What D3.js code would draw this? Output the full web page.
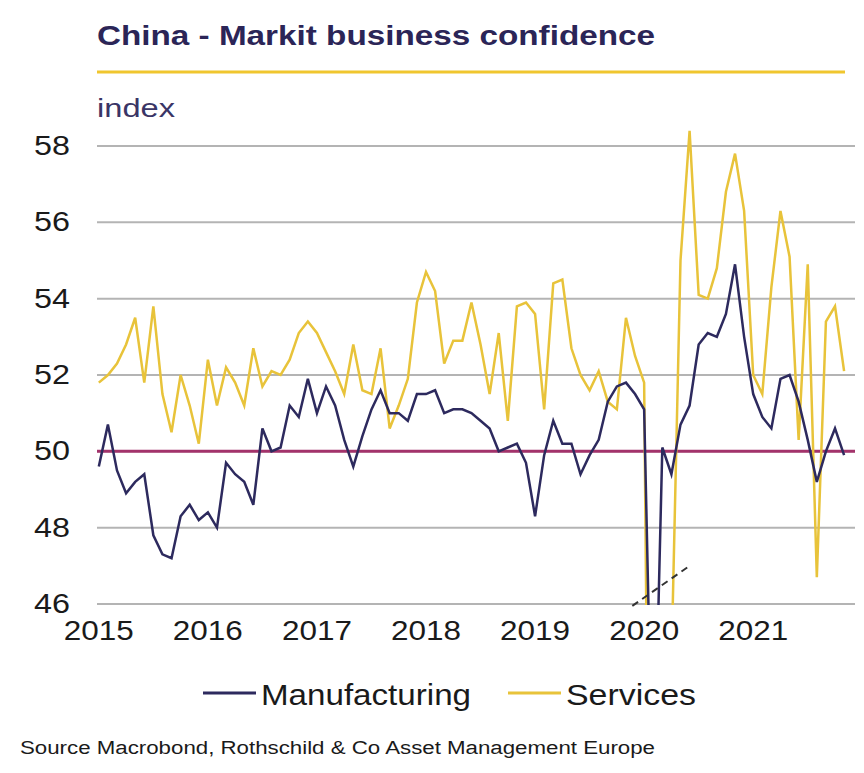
<!DOCTYPE html>
<html>
<head>
<meta charset="utf-8">
<script src="https://cdn.jsdelivr.net/npm/d3@7"></script>
<style>
  body { margin: 0; background: #fff; }
  text { font-family: "Liberation Sans", Arial, sans-serif; }
</style>
</head>
<body>
<svg id="chart" width="864" height="773"></svg>
<script>
  'use strict';

  // monthly values, Jan 2015 .. Nov 2021
  const startYear = 2015;
  const manufacturing = [
    49.6, 50.7, 49.5, 48.9, 49.2, 49.4, 47.8, 47.3, 47.2, 48.3, 48.6, 48.2,
    48.4, 48.0, 49.7, 49.4, 49.2, 48.6, 50.6, 50.0, 50.1, 51.2, 50.9, 51.9,
    51.0, 51.7, 51.2, 50.3, 49.6, 50.4, 51.1, 51.6, 51.0, 51.0, 50.8, 51.5,
    51.5, 51.6, 51.0, 51.1, 51.1, 51.0, 50.8, 50.6, 50.0, 50.1, 50.2, 49.7,
    48.3, 49.9, 50.8, 50.2, 50.2, 49.4, 49.9, 50.3, 51.3, 51.7, 51.8, 51.5,
    51.1, 40.3, 50.1, 49.4, 50.7, 51.2, 52.8, 53.1, 53.0, 53.6, 54.9, 53.0,
    51.5, 50.9, 50.6, 51.9, 52.0, 51.3, 50.3, 49.2, 50.0, 50.6, 49.9
  ];
  const services = [
    51.8, 52.0, 52.3, 52.8, 53.5, 51.8, 53.8, 51.5, 50.5, 52.0, 51.2, 50.2,
    52.4, 51.2, 52.2, 51.8, 51.2, 52.7, 51.7, 52.1, 52.0, 52.4, 53.1, 53.4,
    53.1, 52.6, 52.1, 51.5, 52.8, 51.6, 51.5, 52.7, 50.6, 51.2, 51.9, 53.9,
    54.7, 54.2, 52.3, 52.9, 52.9, 53.9, 52.8, 51.5, 53.1, 50.8, 53.8, 53.9,
    53.6, 51.1, 54.4, 54.5, 52.7, 52.0, 51.6, 52.1, 51.3, 51.1, 53.5, 52.5,
    51.8, 26.5, 43.0, 44.4, 55.0, 58.4, 54.1, 54.0, 54.8, 56.8, 57.8, 56.3,
    52.0, 51.5, 54.3, 56.3, 55.1, 50.3, 54.9, 46.7, 53.4, 53.8, 52.1
  ];
  const yTicks = [46, 48, 50, 52, 54, 56, 58];
  const xTickYears = [2015, 2016, 2017, 2018, 2019, 2020, 2021];
  // axis-break marker: [month index, value]
  const breakMark = [[58.7, 45.95], [65, 47.0]];

  const svg = d3.select('#chart');
  const plotLeft = 97, plotRight = 855, plotTop = 146, plotBottom = 604;

  const x = d3.scaleLinear().domain([-0.2, 83.2]).range([plotLeft, plotRight]);
  const y = d3.scaleLinear().domain([46, 58]).range([plotBottom, plotTop]);

  // title block
  svg.append('text').attr('x', 97).attr('y', 45)
    .attr('font-size', 28).attr('font-weight', 'bold').attr('fill', '#2b2557')
    .attr('textLength', 558).attr('lengthAdjust', 'spacingAndGlyphs')
    .text('China - Markit business confidence');
  svg.append('line').attr('x1', 97).attr('x2', 845).attr('y1', 72).attr('y2', 72)
    .attr('stroke', '#f0c62e').attr('stroke-width', 3);
  svg.append('text').attr('x', 97).attr('y', 117)
    .attr('font-size', 26).attr('fill', '#3a3566')
    .attr('textLength', 78).attr('lengthAdjust', 'spacingAndGlyphs')
    .text('index');

  // gridlines + y labels
  yTicks.forEach((t) => {
    svg.append('line').attr('x1', plotLeft).attr('x2', plotRight)
      .attr('y1', y(t)).attr('y2', y(t))
      .attr('stroke', '#b4b4b4').attr('stroke-width', 2);
    svg.append('text').attr('x', 70).attr('y', y(t) + 9)
      .attr('text-anchor', 'end').attr('font-size', 27).attr('fill', '#1a1a1a')
      .attr('textLength', 36).attr('lengthAdjust', 'spacingAndGlyphs')
      .text(t);
  });

  // x labels at January of each year
  xTickYears.forEach((yr) => {
    svg.append('text').attr('x', x((yr - startYear) * 12)).attr('y', 640)
      .attr('text-anchor', 'middle').attr('font-size', 27).attr('fill', '#1a1a1a')
      .attr('textLength', 70).attr('lengthAdjust', 'spacingAndGlyphs')
      .text(yr);
  });

  // 50 reference line
  svg.append('line').attr('x1', plotLeft).attr('x2', plotRight)
    .attr('y1', y(50)).attr('y2', y(50))
    .attr('stroke', '#a3336b').attr('stroke-width', 3);

  svg.append('clipPath').attr('id', 'plot')
    .append('rect').attr('x', plotLeft).attr('y', 0)
    .attr('width', plotRight - plotLeft).attr('height', plotBottom + 1);

  const line = d3.line().x((d, i) => x(i)).y((d) => y(d));
  const g = svg.append('g').attr('clip-path', 'url(#plot)');

  g.append('path').datum(services).attr('d', line)
    .attr('fill', 'none').attr('stroke', '#e8c33a').attr('stroke-width', 2.5);
  g.append('path').datum(manufacturing).attr('d', line)
    .attr('fill', 'none').attr('stroke', '#2d2a5e').attr('stroke-width', 2.5);

  svg.append('path').datum(breakMark)
    .attr('d', d3.line().x((d) => x(d[0])).y((d) => y(d[1])))
    .attr('fill', 'none').attr('stroke', '#333').attr('stroke-width', 2)
    .attr('stroke-dasharray', '7,5');

  // legend
  const legend = [
    { name: 'Manufacturing', color: '#2d2a5e', x: 203, w: 210 },
    { name: 'Services', color: '#e8c33a', x: 508, w: 130 }
  ];
  legend.forEach((l) => {
    svg.append('line').attr('x1', l.x).attr('x2', l.x + 53)
      .attr('y1', 693).attr('y2', 693)
      .attr('stroke', l.color).attr('stroke-width', 3);
    svg.append('text').attr('x', l.x + 58).attr('y', 705)
      .attr('font-size', 30).attr('fill', '#1a1a1a')
      .attr('textLength', l.w).attr('lengthAdjust', 'spacingAndGlyphs')
      .text(l.name);
  });

  svg.append('text').attr('x', 20).attr('y', 754)
    .attr('font-size', 18).attr('fill', '#1a1a1a')
    .attr('textLength', 635).attr('lengthAdjust', 'spacingAndGlyphs')
    .text('Source Macrobond, Rothschild & Co Asset Management Europe');
</script>
</body>
</html>
